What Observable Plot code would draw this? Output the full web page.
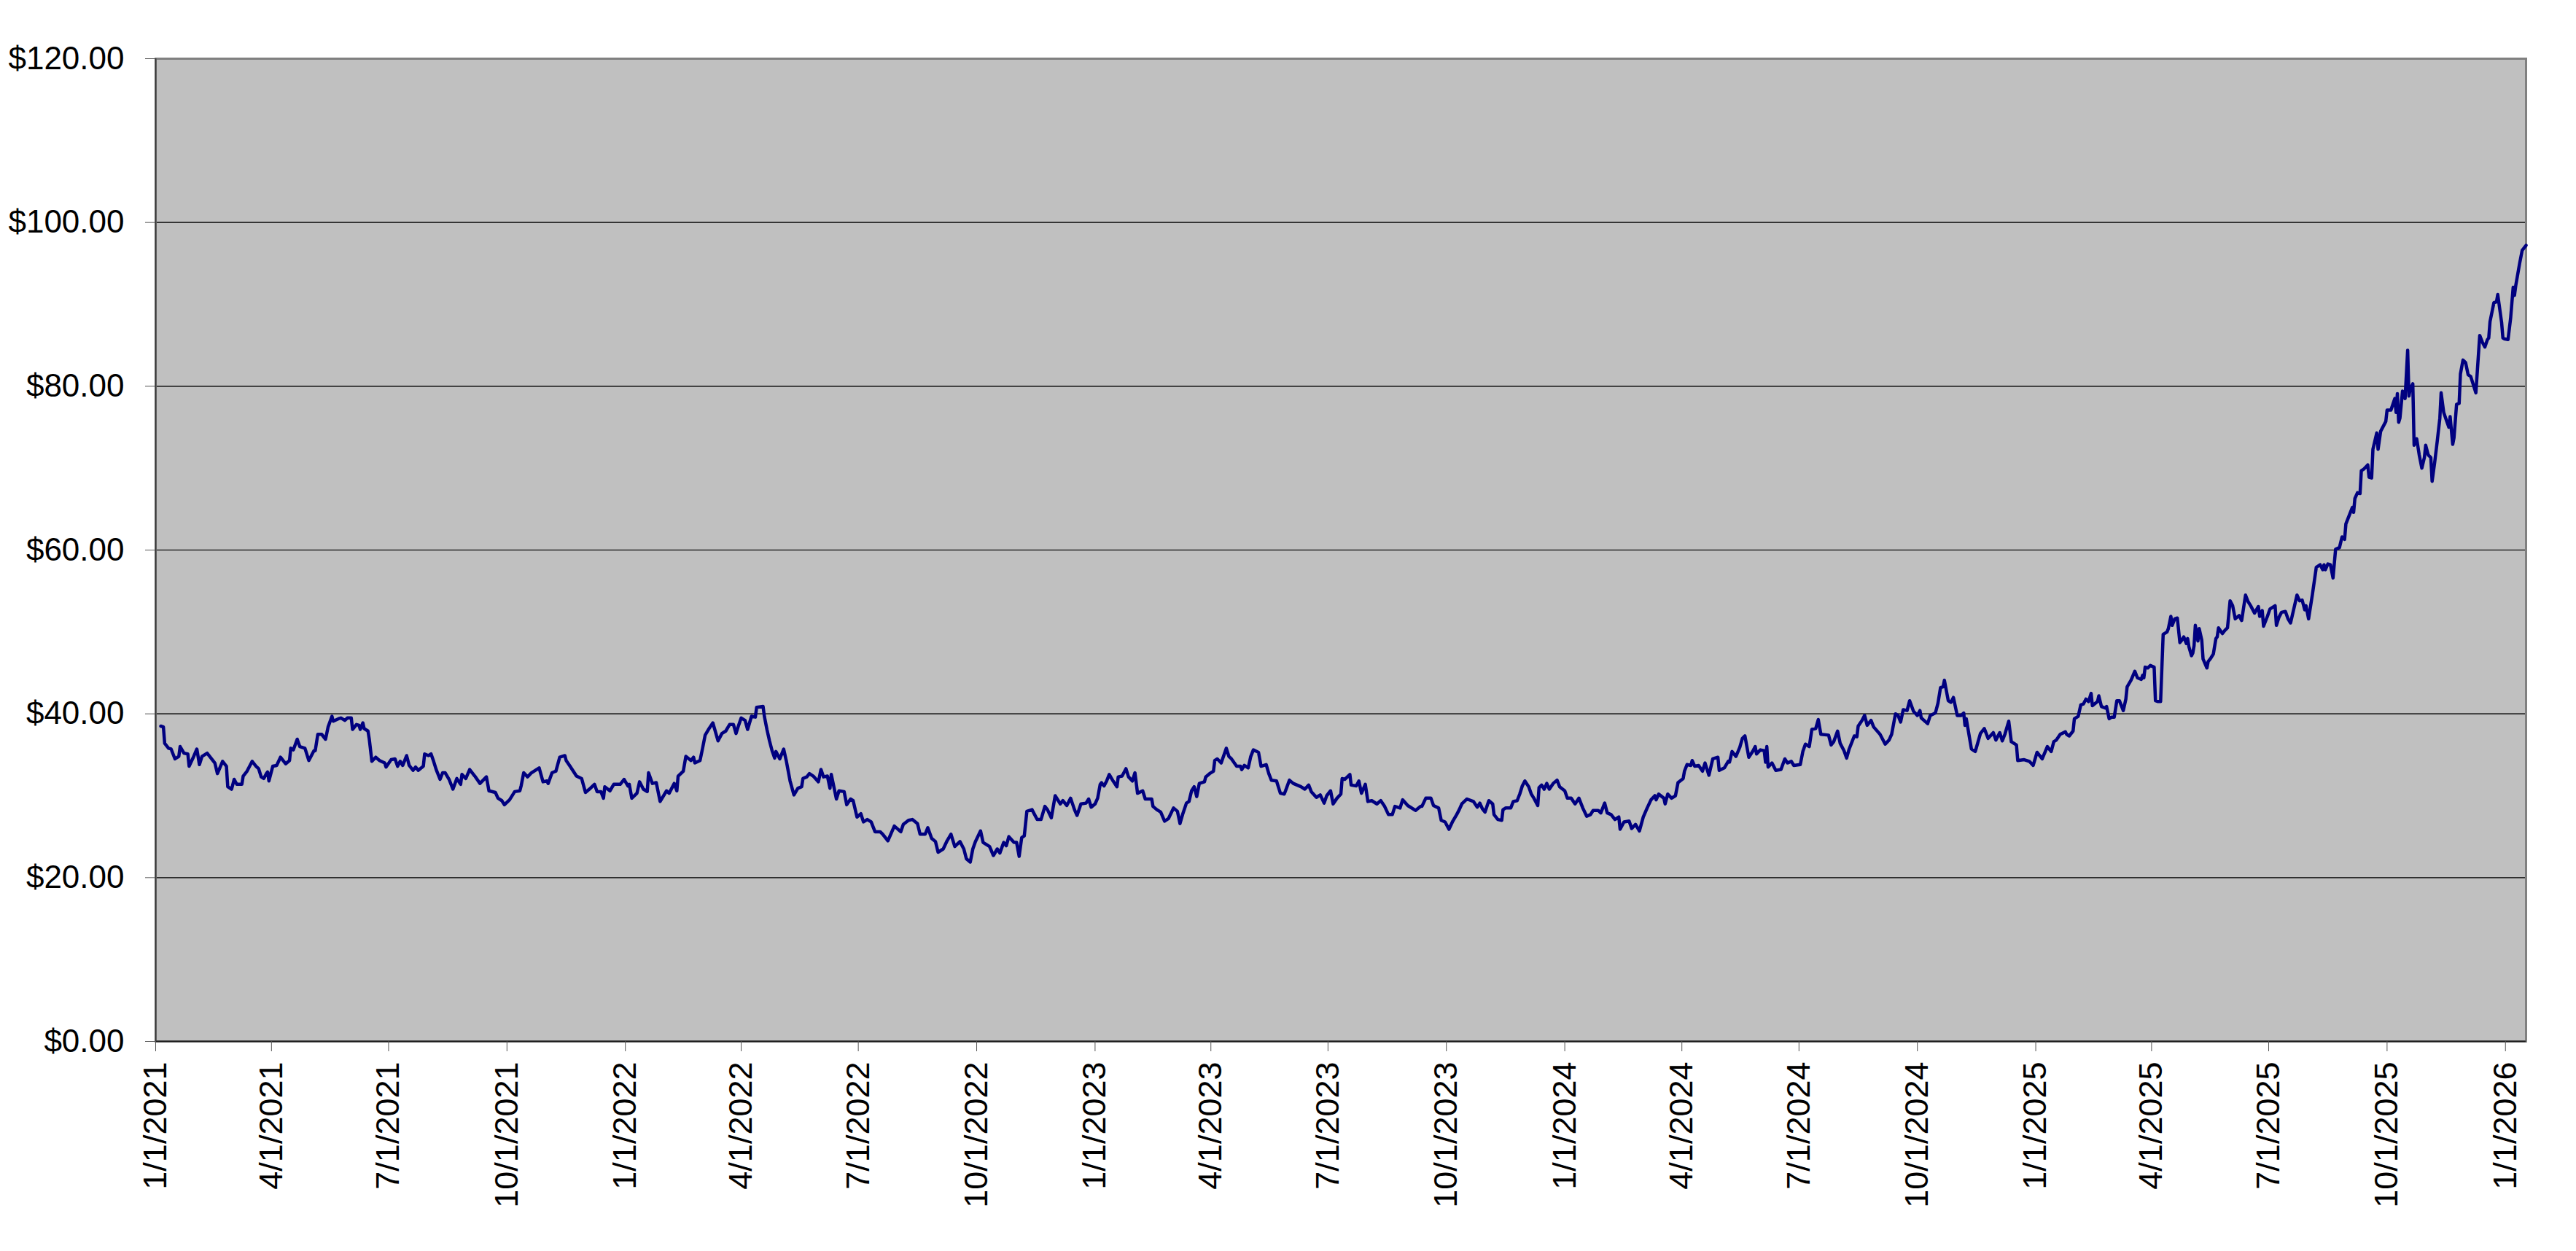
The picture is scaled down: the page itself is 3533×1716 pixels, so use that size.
<!DOCTYPE html>
<html>
<head>
<meta charset="utf-8">
<script src="https://cdn.jsdelivr.net/npm/d3@7"></script>
<script src="https://cdn.jsdelivr.net/npm/@observablehq/plot@0.6"></script>
<style>
html, body { margin: 0; padding: 0; background: #ffffff; }
#chart svg { display: block; }
</style>
</head>
<body>
<div id="chart"></div>
<script>
// Base date for the day offsets below
const baseDate = "2021-01-01";
const lastDayOffset = 1842; // 2026-01-17, last plotted close

// Closing prices as [days since 2021-01-01, price in $]
const prices2021 = [[4,38.5],[6,38.4],[7,36.4],[10,35.8],[12,35.7],[15,34.5],[18,34.8],[19,36.0],[22,35.2],[25,35.1],[26,33.6],[29,34.6],[32,35.7],[34,33.8],[36,34.8],[40,35.2],[42,34.8],[46,34.0],[48,32.7],[52,34.2],[55,33.6],[56,31.1],[59,30.8],[61,32.0],[63,31.4],[67,31.4],[68,32.4],[71,33.0],[75,34.2],[78,33.6],[80,33.3],[82,32.3],[84,32.1],[86,32.7],[87,32.9],[88,31.8],[91,33.6],[94,33.7],[97,34.7],[101,33.9],[104,34.3],[105,35.8],[107,35.6],[110,36.9],[112,36.0],[116,35.8],[119,34.3],[123,35.5],[124,35.5],[126,37.5],[129,37.5],[132,36.9],[134,38.4],[137,39.7],[138,39.1],[142,39.4],[144,39.5],[147,39.2],[149,39.5],[152,39.5],[153,38.1],[156,38.7],[158,38.6],[159,38.1],[161,38.9],[162,38.2],[165,37.9],[166,36.9],[168,34.2],[171,34.7],[174,34.3],[178,34.0],[179,33.5],[183,34.4],[186,34.5],[188,33.6],[190,34.2],[192,33.7],[195,34.9],[197,33.7],[200,33.1],[202,33.5],[204,33.1],[208,33.6],[209,35.1],[212,34.9],[214,35.1],[216,34.2],[218,33.2],[221,32.0],[223,32.8],[225,32.8],[228,32.0],[231,30.8],[234,32.1],[237,31.4],[238,32.6],[241,32.1],[244,33.2],[248,32.4],[252,31.5],[257,32.3],[259,30.6],[264,30.4],[266,29.7],[269,29.4],[271,28.9],[275,29.5],[279,30.5],[283,30.6],[284,31.2],[286,32.8],[289,32.3],[292,32.8],[294,33.0],[298,33.4],[301,31.7],[304,31.8],[305,31.5],[308,32.8],[311,33.0],[314,34.7],[318,34.9],[319,34.3],[322,33.6],[327,32.4],[331,32.1],[334,30.4],[337,30.8],[341,31.4],[343,30.5],[346,30.5],[348,29.7],[349,31.1],[353,30.6],[356,31.4],[361,31.4],[364,32.0]];

const prices2022 = [[367,31.2],[368,31.4],[370,29.7],[374,30.3],[376,31.7],[379,30.8],[382,30.5],[383,32.8],[386,31.5],[389,31.6],[392,29.3],[397,30.6],[399,30.3],[403,31.5],[405,30.6],[406,32.4],[410,33.0],[412,34.8],[416,34.3],[418,34.7],[419,34.0],[423,34.3],[425,35.8],[427,37.4],[430,38.2],[433,38.9],[437,36.7],[440,37.6],[443,37.9],[446,38.7],[449,38.7],[451,37.6],[453,38.6],[455,39.5],[458,39.2],[460,38.1],[463,39.7],[466,39.6],[467,40.8],[472,40.9],[473,39.7],[475,38.1],[477,36.7],[479,35.5],[481,34.6],[482,35.4],[485,34.5],[488,35.7],[490,34.3],[493,31.8],[496,30.1],[499,30.9],[502,31.1],[503,32.1],[506,32.3],[508,32.7],[511,32.4],[515,31.7],[517,33.2],[519,32.3],[522,32.4],[524,30.9],[525,32.6],[529,29.6],[531,30.6],[535,30.5],[537,28.9],[540,29.6],[542,29.4],[545,27.4],[548,27.8],[550,26.8],[553,27.1],[556,26.8],[559,25.6],[563,25.6],[565,25.3],[569,24.5],[574,26.3],[579,25.6],[581,26.5],[585,27.0],[588,27.1],[592,26.6],[594,25.3],[598,25.3],[600,26.1],[603,24.8],[606,24.4],[608,23.1],[612,23.5],[615,24.5],[618,25.3],[621,23.8],[625,24.4],[628,23.5],[630,22.3],[633,21.9],[635,23.5],[637,24.4],[641,25.7],[643,24.3],[648,23.8],[651,22.7],[654,23.5],[656,23.0],[659,24.3],[661,23.9],[663,25.0],[667,24.3],[669,24.3],[671,22.6],[673,24.9],[675,25.1],[677,28.1],[681,28.3],[685,27.1],[688,27.1],[691,28.7],[693,28.3],[696,27.3],[699,30.0],[703,29.0],[705,29.4],[708,28.8],[711,29.7],[714,28.3],[716,27.6],[719,29.0],[723,29.1],[725,29.6],[727,28.6]];

const prices2023 = [[730,29.0],[732,29.7],[734,31.4],[735,31.6],[737,31.2],[739,31.8],[741,32.6],[744,31.8],[747,31.1],[748,32.3],[751,32.4],[754,33.3],[756,32.3],[759,31.8],[761,32.8],[763,30.3],[767,30.6],[769,29.6],[774,29.6],[775,28.7],[778,28.3],[781,28.0],[784,26.9],[787,27.2],[791,28.5],[794,28.1],[796,26.6],[798,27.7],[801,29.1],[803,29.3],[805,30.6],[807,31.1],[809,29.9],[811,31.5],[815,31.7],[816,32.3],[819,32.7],[822,33.0],[823,34.3],[825,34.5],[828,34.0],[832,35.8],[834,34.8],[836,34.5],[840,33.6],[843,33.6],[844,33.2],[846,33.7],[849,33.4],[851,34.8],[853,35.6],[857,35.3],[859,33.6],[863,33.8],[865,32.7],[867,31.9],[871,31.8],[874,30.3],[877,30.2],[878,30.6],[881,31.9],[884,31.5],[887,31.3],[890,31.1],[893,30.8],[896,31.3],[898,30.5],[902,29.8],[905,30.1],[908,29.1],[910,30.0],[913,30.6],[915,29.0],[918,29.7],[921,30.2],[922,32.1],[924,32.0],[928,32.6],[929,31.3],[933,31.2],[935,31.8],[937,30.3],[940,31.4],[942,29.3],[945,29.4],[949,29.0],[952,29.4],[955,28.7],[958,27.7],[961,27.7],[963,28.7],[967,28.5],[969,29.5],[973,28.8],[979,28.2],[983,28.7],[984,28.7],[987,29.7],[991,29.7],[993,28.8],[997,28.5],[999,27.0],[1002,26.8],[1005,25.9],[1008,26.9],[1011,27.7],[1013,28.3],[1015,29.0],[1019,29.6],[1024,29.3],[1027,28.6],[1029,29.1],[1031,28.4],[1033,28.0],[1036,29.4],[1039,29.0],[1040,27.7],[1043,27.1],[1046,27.0],[1047,28.3],[1049,28.5],[1053,28.5],[1055,29.3],[1058,29.4],[1060,30.2],[1062,31.2],[1064,31.8],[1067,31.1],[1069,30.2],[1071,29.7],[1074,28.8],[1075,31.0],[1077,31.3],[1079,30.8],[1081,31.5],[1083,30.8],[1086,31.5],[1089,31.9],[1091,31.1]];

const prices2024 = [[1095,30.6],[1097,29.7],[1100,29.7],[1103,29.0],[1106,29.7],[1109,28.5],[1112,27.5],[1115,27.7],[1117,28.2],[1121,28.2],[1123,27.9],[1126,29.1],[1128,27.9],[1131,27.7],[1134,27.1],[1137,27.4],[1138,25.9],[1141,26.8],[1145,26.9],[1147,26.0],[1150,26.5],[1153,25.7],[1156,27.4],[1159,28.5],[1162,29.5],[1165,30.0],[1166,29.5],[1168,30.2],[1172,29.7],[1173,29.0],[1175,30.2],[1178,29.7],[1181,30.0],[1183,31.6],[1187,32.1],[1188,33.0],[1190,33.8],[1193,33.7],[1194,34.3],[1196,33.6],[1199,33.7],[1202,33.0],[1204,34.0],[1207,32.5],[1210,34.5],[1214,34.7],[1215,33.1],[1219,33.4],[1222,34.2],[1223,34.1],[1225,35.4],[1228,34.8],[1231,35.9],[1233,37.0],[1235,37.3],[1238,34.7],[1241,35.4],[1243,36.0],[1244,35.1],[1247,35.6],[1250,35.5],[1251,34.1],[1252,36.0],[1253,33.5],[1256,34.0],[1259,33.1],[1263,33.2],[1266,34.5],[1268,34.0],[1271,34.2],[1273,33.7],[1278,33.8],[1280,35.4],[1282,36.3],[1285,36.0],[1287,38.1],[1290,38.2],[1292,39.3],[1294,37.5],[1300,37.4],[1302,36.2],[1304,36.6],[1307,37.9],[1309,36.4],[1312,35.5],[1314,34.6],[1316,35.7],[1320,37.3],[1322,37.2],[1323,38.5],[1326,39.2],[1328,39.8],[1330,38.6],[1333,39.2],[1335,38.4],[1340,37.5],[1344,36.3],[1347,36.8],[1349,37.5],[1352,40.0],[1354,39.8],[1356,39.0],[1358,40.5],[1361,40.4],[1363,41.6],[1366,40.3],[1369,39.8],[1371,40.4],[1372,39.5],[1377,38.8],[1379,39.8],[1383,40.1],[1385,41.3],[1387,43.2],[1389,43.3],[1390,44.1],[1393,41.6],[1395,41.4],[1397,42.0],[1400,39.8],[1403,39.8],[1405,40.1],[1406,38.6],[1407,39.4],[1411,35.7],[1414,35.4],[1418,37.6],[1421,38.2],[1424,37.0],[1428,37.7],[1430,36.8],[1433,37.7],[1435,36.7],[1437,37.5],[1440,39.1],[1442,36.6],[1446,36.2],[1447,34.3],[1452,34.4],[1456,34.2],[1459,33.7]];

const prices2025 = [[1462,35.3],[1466,34.5],[1470,36.0],[1473,35.4],[1475,36.6],[1477,36.8],[1480,37.5],[1484,37.8],[1485,37.5],[1487,37.3],[1490,37.9],[1491,39.4],[1494,39.7],[1496,41.1],[1498,41.2],[1500,41.8],[1502,41.5],[1504,42.5],[1505,41.0],[1509,41.5],[1510,42.2],[1512,40.9],[1515,40.7],[1516,40.9],[1518,39.4],[1520,39.6],[1522,39.6],[1524,41.6],[1526,41.6],[1529,40.4],[1531,41.8],[1532,43.3],[1535,44.1],[1538,45.2],[1540,44.4],[1543,44.2],[1544,44.7],[1545,44.4],[1546,45.7],[1548,45.6],[1550,45.9],[1553,45.7],[1554,41.6],[1556,41.5],[1558,41.5],[1560,49.7],[1563,50.0],[1564,50.4],[1566,51.9],[1567,50.8],[1569,51.6],[1571,51.7],[1573,48.7],[1574,48.9],[1576,49.4],[1578,48.6],[1579,49.2],[1580,48.2],[1582,47.1],[1583,47.4],[1584,48.3],[1585,50.8],[1587,48.9],[1588,50.4],[1590,49.0],[1591,46.7],[1594,45.6],[1595,46.4],[1597,46.8],[1599,47.3],[1601,49.2],[1602,49.4],[1603,50.5],[1606,49.8],[1608,50.2],[1610,50.5],[1612,53.8],[1614,53.2],[1616,51.6],[1619,52.0],[1621,51.4],[1624,54.5],[1626,53.7],[1628,53.2],[1631,52.3],[1634,53.1],[1635,51.9],[1637,52.6],[1638,50.7],[1641,51.9],[1643,52.8],[1647,53.2],[1648,50.8],[1650,51.8],[1652,52.4],[1655,52.5],[1657,51.6],[1659,51.1],[1664,54.5],[1666,53.8],[1668,53.9],[1670,52.7],[1671,53.2],[1673,51.6],[1676,54.6],[1679,57.9],[1682,58.2],[1684,57.6],[1685,58.2],[1686,57.6],[1688,58.3],[1690,58.2],[1692,56.6],[1694,60.1],[1697,60.3],[1699,61.6],[1701,61.3],[1702,63.2],[1705,64.4],[1707,65.2],[1708,64.6],[1709,66.3],[1711,67.0],[1713,66.9],[1714,69.7],[1716,69.9],[1719,70.4],[1720,68.9],[1722,68.8],[1723,72.3],[1726,74.3],[1727,72.3],[1729,74.5],[1731,75.1],[1733,75.7],[1734,77.1],[1737,77.1],[1740,78.5],[1741,76.8],[1742,79.1],[1743,75.6],[1744,76.1],[1746,79.4],[1748,78.5],[1750,84.4],[1751,78.8],[1752,79.7],[1754,80.3],[1755,72.8],[1757,73.6],[1759,71.6],[1761,70.0],[1763,71.3],[1764,72.8],[1766,71.6],[1768,71.3],[1769,68.4],[1771,70.7],[1773,73.3],[1775,76.1],[1776,79.2],[1778,76.8],[1780,75.9],[1782,75.0],[1783,76.3],[1785,72.9],[1786,73.7],[1788,77.8],[1790,77.9],[1791,81.5],[1793,83.2],[1795,82.9],[1797,81.4],[1799,81.2],[1803,79.2],[1806,86.2],[1808,85.4],[1810,84.8],[1812,85.7],[1813,85.9],[1814,87.9],[1817,90.2],[1819,90.3],[1820,91.2],[1823,87.8],[1824,85.9],[1825,85.8]];

const prices2026 = [[1828,85.7],[1830,88.3],[1832,92.1],[1833,91.1],[1834,92.3],[1837,95.0],[1839,96.6],[1842,97.2]];

// Axis ticks
const yTickValues = [0, 20, 40, 60, 80, 100, 120];
const gridValues = [20, 40, 60, 80, 100];
const xTickDates = ["2021-01-01","2021-04-01","2021-07-01","2021-10-01",
  "2022-01-01","2022-04-01","2022-07-01","2022-10-01",
  "2023-01-01","2023-04-01","2023-07-01","2023-10-01",
  "2024-01-01","2024-04-01","2024-07-01","2024-10-01",
  "2025-01-01","2025-04-01","2025-07-01","2025-10-01",
  "2026-01-01"];

const DAY = 86400000;
const start = new Date(baseDate + "T00:00:00Z");
const series = [...prices2021, ...prices2022, ...prices2023, ...prices2024, ...prices2025, ...prices2026]
  .map(([d, p]) => ({date: new Date(start.getTime() + d * DAY), price: p}));
const xTicks = xTickDates.map(s => new Date(s + "T00:00:00Z"));
const xEnd = new Date(start.getTime() + lastDayOffset * DAY);

const fmtDate = d => `${d.getUTCMonth() + 1}/${d.getUTCDate()}/${d.getUTCFullYear()}`;
const fmtMoney = v => "$" + v.toFixed(2);

const chart = Plot.plot({
  width: 3533,
  height: 1716,
  marginLeft: 213,
  marginRight: 69,
  marginTop: 80,
  marginBottom: 288,
  style: {
    fontFamily: "'Liberation Sans', Arial, Helvetica, sans-serif",
    background: "#ffffff",
    color: "#000000",
    overflow: "visible"
  },
  x: {type: "utc", domain: [start, xEnd]},
  y: {domain: [0, 120]},
  marks: [
    Plot.frame({fill: "#c0c0c0", stroke: null}),
    Plot.ruleY(gridValues, {stroke: "#2a2a2a", strokeWidth: 1.6}),
    Plot.frame({stroke: "#808080", strokeWidth: 3}),
    Plot.ruleY([0], {stroke: "#1a1a1a", strokeWidth: 2}),
    Plot.ruleX([start], {stroke: "#3a3a3a", strokeWidth: 2}),
    Plot.line(series, {x: "date", y: "price", stroke: "#000080", strokeWidth: 4.5, strokeLinejoin: "round", strokeLinecap: "round"}),
    Plot.axisY({ticks: yTickValues, tickSize: 14, tickPadding: 29, fontSize: 44, tickFormat: fmtMoney, stroke: "#555555", fill: "#000000", label: null}),
    Plot.axisX({ticks: xTicks, tickSize: 14, tickPadding: 14, tickRotate: -90, fontSize: 45, tickFormat: fmtDate, stroke: "#555555", fill: "#000000", label: null})
  ]
});

document.getElementById("chart").appendChild(chart);
</script>
</body>
</html>
